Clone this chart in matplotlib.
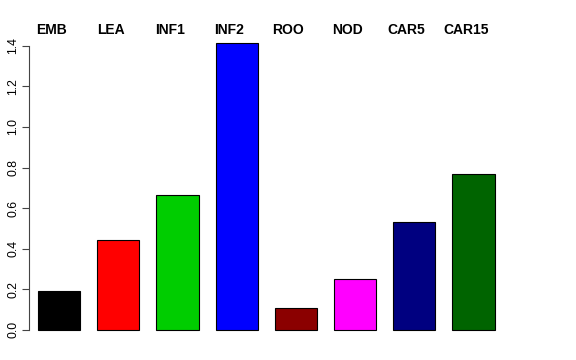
import numpy as np
import matplotlib.pyplot as plt
from matplotlib.transforms import blended_transform_factory

plt.rcParams['font.family'] = ['Liberation Sans', 'DejaVu Sans']

labels = ["EMB", "LEA", "INF1", "INF2", "ROO", "NOD", "CAR5", "CAR15"]
values = [0.192, 0.440, 0.666, 1.414, 0.108, 0.252, 0.533, 0.768]
colors = ["black", "red", "#00CD00", "blue", "#8B0000", "magenta", "#000080", "#006400"]

# R barplot style positions: width 1, space 0.4
x = 0.9 + 1.4 * np.arange(len(values))

fig = plt.figure(figsize=(5.76, 3.6), dpi=100)
ax = fig.add_axes([0.0503, 0.0444, 0.840, 0.868])
ax.bar(x, values, width=1.0, color=colors, edgecolor="black", linewidth=0.8)

ax.set_xlim(0.187, 11.632)
ax.set_ylim(-0.0712, 1.4712)
for s in ["top", "right", "bottom"]:
    ax.spines[s].set_visible(False)
ax.spines["left"].set_bounds(0, 1.4)
ax.spines["left"].set_color("#444444")
ax.set_xticks([])
ax.set_yticks(np.arange(0, 1.41, 0.2))
ax.set_yticklabels(["%.1f" % v for v in np.arange(0, 1.41, 0.2)], rotation=90, va="center", fontsize=8.8)
ax.tick_params(axis="y", length=5, color="#444444", pad=2)

trans = blended_transform_factory(ax.transData, fig.transFigure)
for xi, lab in zip(x, labels):
    ax.text(xi - 0.18, 0.918, lab, transform=trans, ha="center", va="center",
            fontsize=10, fontweight="bold", clip_on=False)

fig.savefig("out.png", dpi=100)
